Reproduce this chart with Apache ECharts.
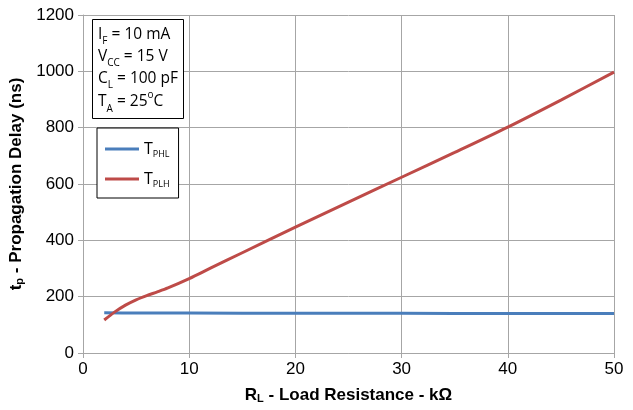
<!DOCTYPE html>
<html><head><meta charset="utf-8">
<script src="https://cdn.jsdelivr.net/npm/echarts@6/dist/echarts.min.js"></script>
<style>html,body{margin:0;padding:0;background:#fff}#c{width:633px;height:410px}</style>
</head><body><div id="c"></div>
<script>
const tphl = [[2,143],[5,142],[10,142],[20,141],[30,141],[40,140],[50,140]];
const tplh = [[2,117],[3,146],[4,170],[5,189],[6,204],[7,217],[8,231],[10,264],[12,301],[15,356],[20,447],[25,536],[30,624],[35,712],[40,802],[45,898],[50,997]];
const seriesNames = ['T{s|PHL}', 'T{s|PLH}'];
const xTicks = [0,10,20,30,40,50];
const yTicks = [0,200,400,600,800,1000,1200];

const chart = echarts.init(document.getElementById('c'), null, {renderer:'canvas'});
const grid = '#a6a6a6';
chart.setOption({
  animation:false,
  grid:{left:83, right:19, top:15, bottom:57},
  title:{
    left:92, top:19,
    padding:[5,6,5,6],
    borderColor:'#000', borderWidth:1, backgroundColor:'#fff',
    text:'I{s|F} = 10 mA\nV{s|CC} = 15 V\nC{s|L} = 100 pF\nT{s|A} = 25{p|o}C',
    textStyle:{
      fontFamily:'Open Sans', fontSize:15.5, fontWeight:'normal', color:'#000', lineHeight:22,
      rich:{
        s:{fontFamily:'Open Sans', fontSize:10, color:'#000', verticalAlign:'bottom', lineHeight:14},
        p:{fontFamily:'Open Sans', fontSize:10, color:'#000', verticalAlign:'top', lineHeight:24}
      }
    }
  },
  legend:{
    orient:'vertical', left:97, top:128,
    padding:[11,9,9,8],
    borderColor:'#000', borderWidth:1, backgroundColor:'#fff',
    itemWidth:34, itemHeight:3, itemGap:10,
    icon:'rect',
    data:[{name:seriesNames[0]},{name:seriesNames[1]}],
    textStyle:{
      fontFamily:'Open Sans', fontSize:16, color:'#000', lineHeight:20,
      rich:{s:{fontFamily:'Open Sans', fontSize:9, color:'#000', verticalAlign:'bottom', lineHeight:14}}
    }
  },
  xAxis:{
    type:'value', min:0, max:50, interval:10,
    name:'R{s|L} - Load Resistance - kΩ', nameLocation:'middle', nameGap:34,
    nameTextStyle:{fontFamily:'Liberation Sans', fontWeight:'bold', fontSize:17, color:'#000',
      rich:{s:{fontFamily:'Liberation Sans', fontWeight:'bold', fontSize:11, color:'#000', verticalAlign:'bottom', lineHeight:16}}},
    axisLine:{show:true, lineStyle:{color:grid}},
    axisTick:{show:true, inside:false, length:5, lineStyle:{color:grid}},
    axisLabel:{fontFamily:'Liberation Sans', fontSize:17, color:'#000', margin:8, formatter:v=>String(v)},
    splitLine:{show:true, lineStyle:{color:grid, width:1}}
  },
  yAxis:{
    type:'value', min:0, max:1200, interval:200,
    name:'t{s|p} - Propagation Delay (ns)', nameLocation:'middle', nameGap:54, nameRotate:90,
    nameTextStyle:{fontFamily:'Liberation Sans', fontWeight:'bold', fontSize:17, color:'#000',
      rich:{s:{fontFamily:'Liberation Sans', fontWeight:'bold', fontSize:11, color:'#000', verticalAlign:'bottom', lineHeight:16}}},
    axisLine:{show:true, lineStyle:{color:grid}},
    axisTick:{show:true, inside:false, length:5, lineStyle:{color:grid}},
    axisLabel:{fontFamily:'Liberation Sans', fontSize:17, color:'#000', margin:9, formatter:v=>String(v)},
    splitLine:{show:true, lineStyle:{color:grid, width:1}}
  },
  series:[
    {name:seriesNames[0], type:'line', data:tphl, showSymbol:false, symbol:'none', smooth:0.3,
      color:'#4a7ebb', lineStyle:{color:'#4a7ebb', width:3}},
    {name:seriesNames[1], type:'line', data:tplh, showSymbol:false, symbol:'none', smooth:0.3,
      color:'#be4b48', lineStyle:{color:'#be4b48', width:3}}
  ]
});
</script></body></html>
